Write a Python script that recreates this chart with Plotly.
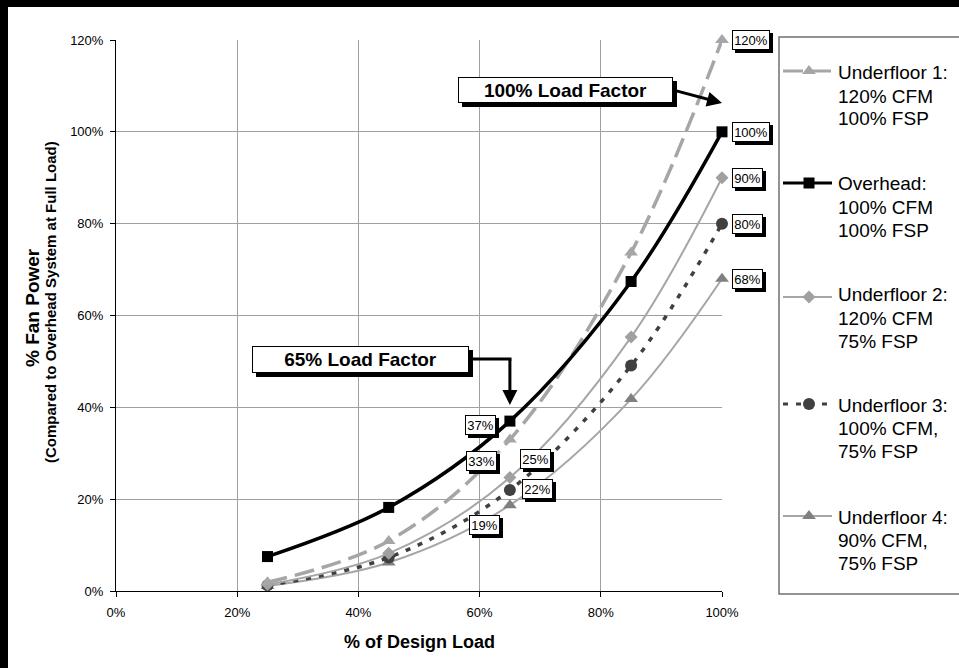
import plotly.graph_objects as go

# ---------------- data ----------------
load = [25, 45, 65, 85, 100]                 # % of design load
underfloor1 = [1.9, 10.9, 33, 73.7, 120]     # 120% CFM, 100% FSP
overhead = [7.5, 18.2, 37, 67.4, 100]        # 100% CFM, 100% FSP
underfloor2 = [1.4, 8.2, 24.7, 55.3, 90]     # 120% CFM, 75% FSP
underfloor3 = [1.25, 7.3, 22, 49.1, 80]      # 100% CFM, 75% FSP
underfloor4 = [1.1, 6.2, 18.7, 41.8, 68]     # 90% CFM, 75% FSP

legend_texts = [
    ["Underfloor 1:", "120% CFM", "100% FSP"],
    ["Overhead:", "100% CFM", "100% FSP"],
    ["Underfloor 2:", "120% CFM", "75% FSP"],
    ["Underfloor 3:", "100% CFM,", "75% FSP"],
    ["Underfloor 4:", "90% CFM,", "75% FSP"],
]
x_tickvals = [0, 20, 40, 60, 80, 100]
x_ticktext = ["0%", "20%", "40%", "60%", "80%", "100%"]
y_tickvals = [0, 20, 40, 60, 80, 100, 120]
y_ticktext = ["0%", "20%", "40%", "60%", "80%", "100%", "120%"]

# ---------------- styles ----------------
FONT = "Liberation Sans, Arial, sans-serif"
W, H = 959, 668
PX0, PX1, PY0, PY1 = 116, 722, 40, 591   # plot area in pixels


def px(x):
    return x / W


def py(y):
    return 1 - y / H


series = [
    dict(y=underfloor4, color="#a6a6a6", width=2, dash="solid",
         msym="triangle-up", msize=12, mcolor="#808080"),
    dict(y=underfloor3, color="#404040", width=3.5, dash="5px,8px",
         msym="circle", msize=12, mcolor="#404040"),
    dict(y=underfloor2, color="#a6a6a6", width=2, dash="solid",
         msym="diamond", msize=10, mcolor="#a0a0a0"),
    dict(y=underfloor1, color="#a6a6a6", width=3.5, dash="20px,8px",
         msym="triangle-up", msize=12, mcolor="#a6a6a6"),
    dict(y=overhead, color="#000000", width=3.5, dash="solid",
         msym="square", msize=11, mcolor="#000000"),
]

fig = go.Figure()
for s in series:
    fig.add_trace(go.Scatter(
        x=load, y=s["y"], mode="lines+markers",
        line=dict(shape="spline", smoothing=1, color=s["color"],
                  width=s["width"], dash=s["dash"]),
        marker=dict(symbol=s["msym"], size=s["msize"], color=s["mcolor"],
                    line=dict(width=0)),
        cliponaxis=False, hoverinfo="skip"))

# ---------------- legend (drawn manually on a pixel overlay axis) ----------------
legend_order = [series[3], series[4], series[2], series[1], series[0]]
legend_sym_y = [71, 183, 297, 404, 516]
legend_text_y = [73, 184, 295, 405, 517]
for s, yc in zip(legend_order, legend_sym_y):
    fig.add_trace(go.Scatter(
        x=[783, 832], y=[yc, yc], mode="lines", xaxis="x2", yaxis="y2",
        line=dict(color=s["color"], width=min(s["width"], 3), dash=s["dash"]),
        hoverinfo="skip", cliponaxis=False))
    fig.add_trace(go.Scatter(
        x=[809], y=[yc], mode="markers", xaxis="x2", yaxis="y2",
        marker=dict(symbol=s["msym"], size=s["msize"], color=s["mcolor"],
                    line=dict(width=0)),
        hoverinfo="skip", cliponaxis=False))

annotations = []
for lines, y0 in zip(legend_texts, legend_text_y):
    for i, t in enumerate(lines):
        annotations.append(dict(
            xref="paper", yref="paper", x=px(836), y=py(y0 + 23 * i),
            xanchor="left", yanchor="middle", text=t, showarrow=False,
            font=dict(family=FONT, size=19, color="#000")))


# ---------------- value labels ----------------
def value_label(x, y, text, xs, ys, xanchor="center"):
    w = 34 if len(text) > 3 else 27
    common = dict(xref="x", yref="y", x=x, y=y, showarrow=False,
                  xanchor=xanchor, yanchor="middle", borderwidth=1, borderpad=1,
                  width=w, height=16)
    annotations.append(dict(common, text=" ", xshift=xs + 3, yshift=ys - 3,
                            bgcolor="#000", bordercolor="#000",
                            font=dict(family=FONT, size=13, color="#000")))
    annotations.append(dict(common, text=text, xshift=xs, yshift=ys,
                            bgcolor="#fff", bordercolor="#000",
                            font=dict(family=FONT, size=13, color="#000")))


for vals in [underfloor1, overhead, underfloor2, underfloor3, underfloor4]:
    value_label(load[-1], vals[-1], f"{vals[-1]:.0f}%", 10, 0, "left")

value_label(load[2], overhead[2], f"{overhead[2]:.0f}%", -29, -4)
value_label(load[2], underfloor1[2], f"{underfloor1[2]:.0f}%", -28, -22)
value_label(load[2], underfloor2[2], f"{underfloor2[2]:.0f}%", 26, 19)
value_label(load[2], underfloor3[2], f"{underfloor3[2]:.0f}%", 28, 1)
value_label(load[2], underfloor4[2], f"{underfloor4[2]:.0f}%", -25, -20)


# ---------------- callout boxes ----------------
def callout(cx, cy, w, h, text):
    common = dict(xref="paper", yref="paper", x=px(cx), y=py(cy),
                  xanchor="center", yanchor="middle",
                  showarrow=False, width=w - 4, height=h - 4,
                  borderwidth=1, borderpad=1, align="center")
    annotations.append(dict(common, text=" ", xshift=4, yshift=-4, bgcolor="#000",
                            bordercolor="#000",
                            font=dict(family=FONT, size=19, color="#000")))
    annotations.append(dict(common, text=f"<b>{text}</b>", bgcolor="#fff",
                            bordercolor="#000",
                            font=dict(family=FONT, size=19, color="#000")))


callout(565.5, 90, 215, 26, "100% Load Factor")
callout(360.5, 359.5, 217, 27, "65% Load Factor")

# arrows
annotations.append(dict(xref="x", yref="y", x=100, y=(PY1 - 103) / (PY1 - PY0) * 120,
                        ax=-49, ay=-13, text="", showarrow=True, arrowhead=2,
                        arrowsize=1, arrowwidth=3, arrowcolor="#000"))
annotations.append(dict(xref="x", yref="y", x=65, y=(PY1 - 405) / (PY1 - PY0) * 120,
                        ax=0, ay=-47, text="", showarrow=True, arrowhead=2,
                        arrowsize=1, arrowwidth=3, arrowcolor="#000"))

# axis titles
annotations.append(dict(xref="paper", yref="paper", x=px(419), y=py(642),
                        text="<b>% of Design Load</b>", showarrow=False,
                        xanchor="center", yanchor="middle",
                        font=dict(family=FONT, size=18, color="#000")))
annotations.append(dict(xref="paper", yref="paper", x=px(32), y=py(308),
                        text="<b>% Fan Power</b>", showarrow=False, textangle=-90,
                        xanchor="center", yanchor="middle",
                        font=dict(family=FONT, size=19, color="#000")))
annotations.append(dict(xref="paper", yref="paper", x=px(50), y=py(302),
                        text="<b>(Compared to Overhead System at Full Load)</b>",
                        showarrow=False, textangle=-90,
                        xanchor="center", yanchor="middle",
                        font=dict(family=FONT, size=15, color="#000")))

shapes = [
    # outer frame (left and top bands)
    dict(type="rect", xref="paper", yref="paper", x0=0, x1=px(8), y0=0, y1=1,
         fillcolor="#000", line=dict(width=0), layer="above"),
    dict(type="rect", xref="paper", yref="paper", x0=0, x1=1, y0=py(7), y1=1,
         fillcolor="#000", line=dict(width=0), layer="above"),
    # legend box
    dict(type="rect", xref="paper", yref="paper", x0=px(779), y0=py(37), x1=px(W + 20),
         y1=py(594), line=dict(color="#707070", width=1.5)),
    # elbow of 65% arrow
    dict(type="line", xref="paper", yref="paper", x0=px(473), y0=py(359), x1=px(511.5),
         y1=py(359), line=dict(color="#000", width=3)),
]

axis_common = dict(showgrid=True, gridcolor="#a0a0a0", gridwidth=1, zeroline=False,
                   showline=True, linecolor="#000", linewidth=1, ticks="outside",
                   ticklen=5, tickcolor="#000", automargin=False,
                   tickfont=dict(family=FONT, size=13, color="#000"))

fig.update_layout(
    width=W, height=H, margin=dict(l=0, r=0, t=0, b=0),
    paper_bgcolor="#fff", plot_bgcolor="rgba(0,0,0,0)", showlegend=False,
    xaxis=dict(axis_common, domain=[px(PX0), px(PX1)], range=[0, 100],
               tickvals=x_tickvals, ticktext=x_ticktext, ticklabelstandoff=4),
    yaxis=dict(axis_common, domain=[py(PY1), py(PY0)], range=[0, 120],
               tickvals=y_tickvals, ticktext=y_ticktext, ticklabelstandoff=4),
    xaxis2=dict(domain=[0, 1], range=[0, W], visible=False, anchor="y2",
                fixedrange=True),
    yaxis2=dict(domain=[0, 1], range=[H, 0], visible=False, anchor="x2",
                fixedrange=True),
    annotations=annotations, shapes=shapes,
)

fig.write_html("out.html", config={"displayModeBar": False},
               post_script="document.body.style.margin='0';"
                           "document.body.style.overflow='hidden';")
